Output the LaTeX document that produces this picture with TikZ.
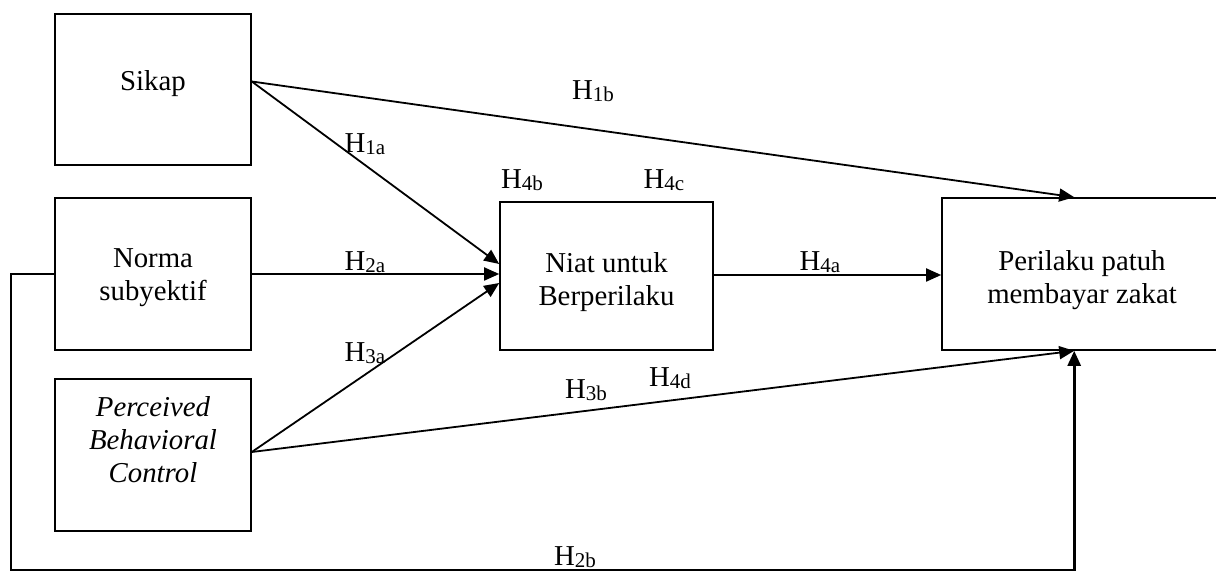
\documentclass[tikz,border=0pt]{standalone}
\usepackage{fontspec}
\setmainfont{Liberation Serif}
\usetikzlibrary{arrows.meta,calc}
\newcommand{\Hsub}[1]{H\raisebox{-0.15ex}{\fontsize{10.5}{10.5}\selectfont #1}}
\begin{document}
\begin{tikzpicture}[x=0.5pt,y=-0.5pt,
  every node/.append style={font=\fontsize{14.4}{16.5}\selectfont},
  box/.style={draw,line width=0.8pt,rectangle,inner sep=0pt,align=center},
  arr/.style={line width=0.9pt,-{Triangle[length=7.5pt,width=6.5pt]}},
  hl/.style={inner sep=0pt}]
\useasboundingbox (0,0) rectangle (1216,572);

% boxes
\node[box,minimum width=98pt,minimum height=75.5pt,
      label={[yshift=3pt]center:Sikap}] (sikap) at (153,89.5) {};
\node[box,minimum width=98pt,minimum height=76pt,
      label={[align=center,yshift=-2pt]center:Norma\\subyektif}] (norma) at (153,274) {};
\node[box,minimum width=98pt,minimum height=76pt,
      label={[align=center,font=\fontsize{14.4}{16.5}\selectfont\itshape,yshift=7.5pt]center:Perceived\\Behavioral\\Control}] (pbc) at (153,455) {};
\node[box,minimum width=106.5pt,minimum height=74pt,
      label={[align=center,yshift=-3pt]center:Niat untuk\\Berperilaku}] (niat) at (606.5,276) {};
\node[box,minimum width=140pt,minimum height=76pt,
      label={[align=center,yshift=-3pt]center:Perilaku patuh\\membayar zakat}] (perilaku) at (1082,274) {};

% anchor points
\coordinate (sOut) at ($(sikap.east)+(0,-8)$);
\coordinate (pOut) at ($(pbc.east)+(0,-3)$);
\coordinate (nIn1) at ($(niat.west)+(0,-12)$);
\coordinate (nIn2) at ($(niat.west)+(0,-2)$);
\coordinate (nIn3) at ($(niat.west)+(0,7)$);
\coordinate (pTop) at ($(perilaku.north west)+(133,0)$);
\coordinate (pBot) at ($(perilaku.south west)+(133,0)$);
\coordinate (nOut) at ($(niat.east)+(0,-1)$);
\coordinate (pIn) at (nOut -| perilaku.west);
\coordinate (corner) at (11,570);

% connectors
\draw[arr] (sOut) -- (nIn1);
\draw[arr] (sOut) -- (pTop);
\draw[arr] (norma.east) -- (nIn2);
\draw[arr] (pOut) -- (nIn3);
\draw[arr] (pOut) -- (pBot);
\draw[arr] (nOut) -- (pIn);
\draw[arr,line width=1.3pt] (norma.west) -| (corner) -| (pBot);

% hypothesis labels
\node[hl] (h1b) at (593,91) {\Hsub{1b}};
\node[hl] (h1a) at (365,144) {\Hsub{1a}};
\node[hl] (h4b) at (522,180) {\Hsub{4b}};
\node[hl] (h4c) at (664,180) {\Hsub{4c}};
\node[hl] (h2a) at (365,262) {\Hsub{2a}};
\node[hl] (h4a) at (820,262) {\Hsub{4a}};
\node[hl] (h3a) at (365,353) {\Hsub{3a}};
\node[hl] (h3b) at (586,390) {\Hsub{3b}};
\node[hl] (h4d) at (670,378) {\Hsub{4d}};
\node[hl] (h2b) at (575,557) {\Hsub{2b}};
\end{tikzpicture}
\end{document}
